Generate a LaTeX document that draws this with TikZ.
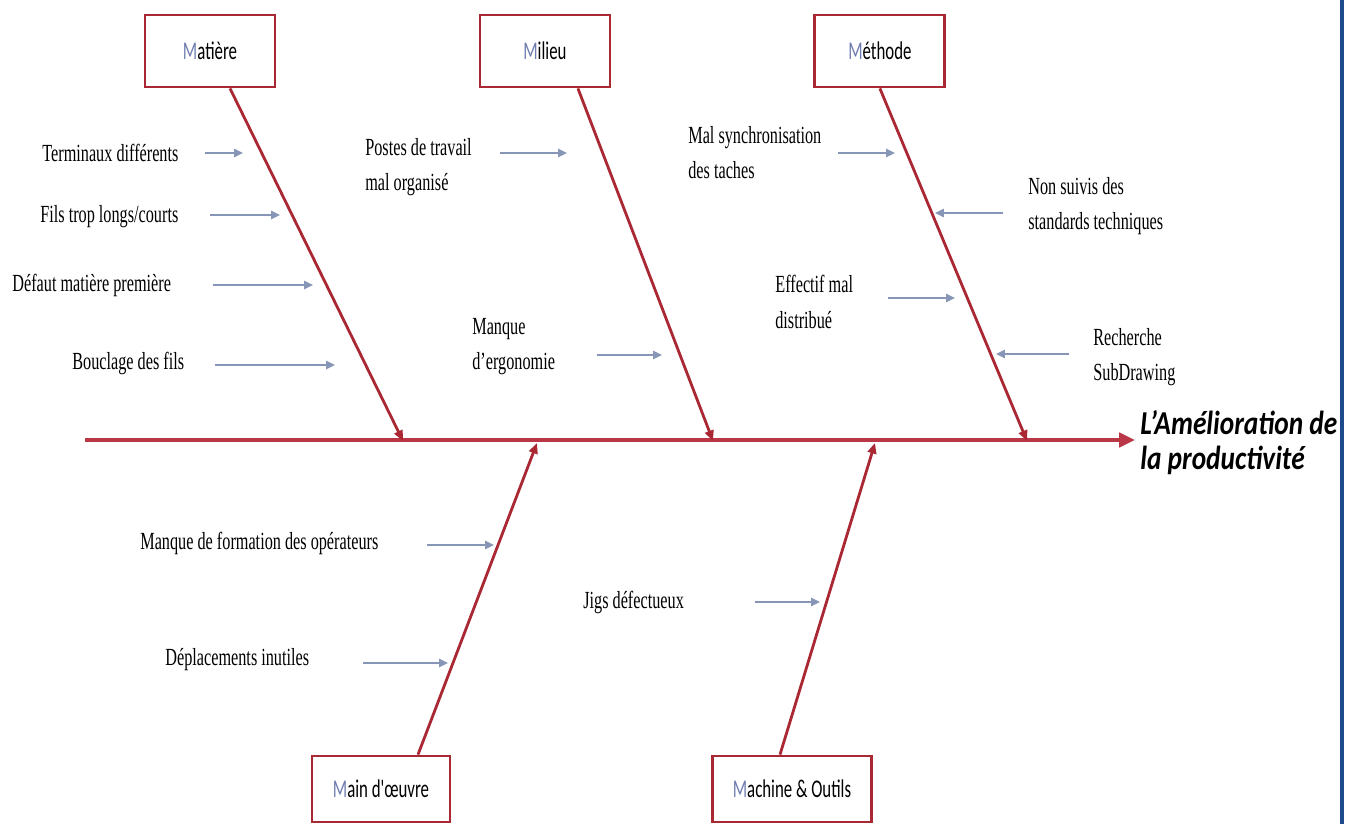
\documentclass[tikz,border=0pt]{standalone}
\usepackage{fontspec}
\usepackage{xcolor}
\usepackage{tikz}
\usetikzlibrary{arrows.meta}

\newfontfamily\causefont{Liberation Serif}[FakeStretch=0.66]
\newfontfamily\boxfont{Carlito}[FakeStretch=0.66]
\newfontfamily\effectfont{Carlito}[FakeStretch=0.82]

\definecolor{bonered}{RGB}{170,40,52}
\definecolor{spinered}{RGB}{185,55,70}
\definecolor{causegrey}{RGB}{135,150,182}
\definecolor{initialblue}{RGB}{110,125,175}
\definecolor{frameblue}{RGB}{30,75,140}
\newcommand{\firstletter}[1]{\textcolor{initialblue}{#1}}

\tikzset{
  category/.style={draw=bonered, line width=1.6pt, rectangle, minimum width=2.6cm, minimum height=1.44cm, font=\boxfont\fontsize{14.5}{16}\selectfont},
  cause/.style={anchor=west, inner sep=0pt, align=left, font=\causefont\fontsize{14}{20}\selectfont},
  bone/.style={draw=bonered, line width=1.6pt, ->, >={Triangle[length=6pt,width=5pt]}},
  causearrow/.style={draw=causegrey, line width=1.5pt, ->, >={Triangle[length=5pt,width=4.5pt]}},
  spine/.style={draw=spinered, line width=2.8pt, ->, >={Triangle[length=9pt,width=8pt]}}
}

\begin{document}
\begin{tikzpicture}[x=0.02cm, y=-0.02cm, node distance=6.7cm]
        \useasboundingbox (0,0) rectangle (1357,824);
        \draw[frameblue, line width=1.8pt] (1342,0) -- (1342,824);

        % Categories
        \node (matiere) [category] at (210,51) {\firstletter{M}atière};
        \node (milieu) [category, right of=matiere] {\firstletter{M}ilieu};
        \node (methode) [category, right of=milieu] {\firstletter{M}éthode};
        \node (main_oeuvre) [category, minimum width=2.76cm, minimum height=1.32cm] at (381,789) {\firstletter{M}ain d'œuvre};
        \node (machine) [category, minimum width=3.18cm, minimum height=1.32cm] at (792,789) {\firstletter{M}achine \& Outils};

        % Spine and effect
        \coordinate (spine_start) at (85,440);
        \coordinate (spine_end) at (1135,440);
        \node (effet) [anchor=west, inner sep=0pt, align=left, font=\effectfont\bfseries\itshape\fontsize{19}{20}\selectfont] at (1140,443) {L’Amélioration de\\la productivité};
        \draw[spine] (spine_start) -- (spine_end);

        % Bones
        \coordinate (matiere_tip) at (403,441);
        \coordinate (milieu_tip) at (713,441);
        \coordinate (methode_tip) at (1027,441);
        \coordinate (main_tip) at (537,443);
        \coordinate (machine_tip) at (875,443);
        \draw[bone] ([xshift=0.4cm]matiere.south) -- (matiere_tip);
        \draw[bone] ([xshift=0.66cm]milieu.south) -- (milieu_tip);
        \draw[bone] (methode.south) -- (methode_tip);
        \draw[bone] ([xshift=0.74cm]main_oeuvre.north) -- (main_tip);
        \draw[bone] ([xshift=-0.24cm]machine.north) -- (machine_tip);

        % Causes: matiere
        \node (terminaux) [cause] at (42,153) {Terminaux différents};
        \node (fils) [cause] at (40,217) {Fils trop longs/courts};
        \node (defaut) [cause] at (12,285) {Défaut matière première};
        \node (bouclage) [cause] at (72,363) {Bouclage des fils};
        % Causes: milieu
        \node (postes) [cause] at (365,167) {Postes de travail\\mal organisé};
        \node (ergonomie) [cause] at (472,347) {Manque\\d’ergonomie};
        % Causes: methode
        \node (synchro) [cause] at (688,153) {Mal synchronisation\\des taches};
        \node (standards) [cause] at (1028,206) {Non suivis des\\standards techniques};
        \node (effectif) [cause] at (775,302) {Effectif mal\\distribué};
        \node (recherche) [cause] at (1093,357) {Recherche\\SubDrawing};
        % Causes: main d'oeuvre
        \node (formation) [cause] at (140,543) {Manque de formation des opérateurs};
        \node (deplacements) [cause] at (165,660) {Déplacements inutiles};
        % Causes: machine
        \node (jigs) [cause] at (583,602) {Jigs défectueux};

        % Cause arrows
        \coordinate (terminaux_from) at (205,153);
        \coordinate (terminaux_to) at (243,153);
        \coordinate (fils_from) at (210,215);
        \coordinate (fils_to) at (280,215);
        \coordinate (defaut_from) at (213,285);
        \coordinate (defaut_to) at (313,285);
        \coordinate (bouclage_from) at (215,365);
        \coordinate (bouclage_to) at (335,365);
        \coordinate (postes_from) at (500,153);
        \coordinate (postes_to) at (567,153);
        \coordinate (ergonomie_from) at (597,355);
        \coordinate (ergonomie_to) at (662,355);
        \coordinate (synchro_from) at (838,153);
        \coordinate (synchro_to) at (895,153);
        \coordinate (standards_from) at (1003,213);
        \coordinate (standards_to) at (935,213);
        \coordinate (effectif_from) at (888,298);
        \coordinate (effectif_to) at (955,298);
        \coordinate (recherche_from) at (1069,354);
        \coordinate (recherche_to) at (996,354);
        \coordinate (formation_from) at (427,545);
        \coordinate (formation_to) at (494,545);
        \coordinate (deplacements_from) at (363,663);
        \coordinate (deplacements_to) at (448,663);
        \coordinate (jigs_from) at (755,602);
        \coordinate (jigs_to) at (820,602);

        \draw[causearrow] (terminaux_from) -- (terminaux_to);
        \draw[causearrow] (fils_from) -- (fils_to);
        \draw[causearrow] (defaut_from) -- (defaut_to);
        \draw[causearrow] (bouclage_from) -- (bouclage_to);
        \draw[causearrow] (postes_from) -- (postes_to);
        \draw[causearrow] (ergonomie_from) -- (ergonomie_to);
        \draw[causearrow] (synchro_from) -- (synchro_to);
        \draw[causearrow] (standards_from) -- (standards_to);
        \draw[causearrow] (effectif_from) -- (effectif_to);
        \draw[causearrow] (recherche_from) -- (recherche_to);
        \draw[causearrow] (formation_from) -- (formation_to);
        \draw[causearrow] (deplacements_from) -- (deplacements_to);
        \draw[causearrow] (jigs_from) -- (jigs_to);
    \end{tikzpicture}
\end{document}
